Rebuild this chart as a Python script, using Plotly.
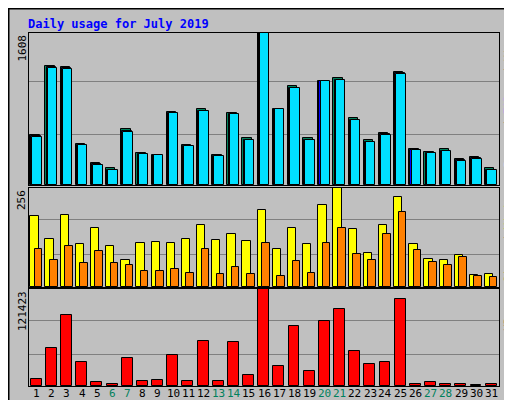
import plotly.graph_objects as go

days = list(range(1, 32))
hits = [525,1258,1247,437,230,175,591,339,317,777,427,809,317,766,492,1608,809,1050,492,1105,1127,711,481,547,1192,383,350,383,273,295,175]
files = [514,1247,1236,427,219,164,569,328,317,766,416,788,306,755,481,1608,809,1028,481,1105,1116,689,459,536,1181,372,339,361,262,284,164]
pages = [510,1243,1232,423,215,160,565,324,313,762,412,784,302,751,477,1604,805,1024,477,1101,1112,685,455,532,1177,368,335,357,258,280,160]
visits = [184,125,186,111,153,106,70,114,117,114,125,161,122,136,120,198,97,153,111,212,256,150,89,161,234,111,72,70,83,31,33]
sites = [97,70,106,61,92,61,58,42,42,47,36,97,33,53,33,114,28,67,36,114,153,86,70,136,195,95,64,58,78,28,25]
kbytes = [8389,48124,89183,29580,4415,3090,34880,5740,7064,38852,5740,56070,5740,54746,13687,121423,25607,74614,18985,81236,95806,44150,26932,29580,109050,3090,4415,3090,3090,1766,3090]
weekends = {6,7,13,14,20,21,27,28}

fig = go.Figure()
def bar(y, color, offset, width, ax):
    fig.add_trace(go.Bar(x=days, y=y, marker=dict(color=color, line=dict(color="black", width=1)),
                         offset=offset, width=width, xaxis="x"+ax, yaxis="y"+ax, showlegend=False))
bar(hits, "#00805c", -0.42, 0.62, "")
bar(files, "#0000ff", -0.34, 0.62, "")
bar(pages, "#00e0ff", -0.27, 0.62, "")
bar(visits, "#ffff00", -0.42, 0.55, "2")
bar(sites, "#ff8000", -0.12, 0.5, "2")
bar(kbytes, "#ff0000", -0.38, 0.72, "3")

xd = [21/512, 491/512]
xcommon = dict(range=[0.5, 31.5], domain=xd, showline=True, mirror=True, linecolor="black", linewidth=1,
               showgrid=False, zeroline=False, ticks="", showticklabels=False, automargin=False)
ycommon = dict(showline=True, mirror=True, linecolor="black", linewidth=1, showticklabels=False,
               gridcolor="#808080", zeroline=False, ticks="", tickmode="array", automargin=False)
fig.update_layout(
    width=512, height=400, margin=dict(l=0, r=0, t=0, b=0, autoexpand=False),
    paper_bgcolor="#c0c0c0", plot_bgcolor="#c0c0c0", barmode="overlay", bargap=0,
    font=dict(family="DejaVu Sans Mono", size=11, color="black"),
    xaxis=dict(xcommon, anchor="y"),
    xaxis2=dict(xcommon, anchor="y2"),
    xaxis3=dict(xcommon, anchor="y3"),
    yaxis=dict(ycommon, domain=[223/400, 375/400], range=[0, 1608], tickvals=[536, 1094]),
    yaxis2=dict(ycommon, domain=[121/400, 220/400], range=[0, 256], tickvals=[83, 175]),
    yaxis3=dict(ycommon, domain=[22/400, 119/400], range=[0, 121423], tickvals=[38852, 82560]),
)
for d in days:
    fig.add_annotation(text=str(d), x=d, y=15/400, xref="x3", yref="paper", yanchor="middle",
                       showarrow=False, font=dict(size=11, color="#00805c" if d in weekends else "black"))
fig.add_annotation(text="<b>Daily usage for July 2019</b>", x=18/512, y=1-7/400, xref="paper", yref="paper",
                   xanchor="left", yanchor="top", showarrow=False, font=dict(color="#0000ff", size=12))
for txt, ytop in [("1608", 375/400), ("256", 220/400), ("121423", 119/400)]:
    fig.add_annotation(text=txt, x=14/512, y=ytop, xref="paper", yref="paper", xanchor="center", yanchor="top",
                       textangle=-90, showarrow=False, font=dict(size=11))
right = [('<span style="color:#00e0ff">Pages</span> / <span style="color:#0000ff">Files</span> / <span style="color:#00805c">Hits</span>', 375/400),
         ('<span style="color:#ff8000">Sites</span> / <span style="color:#ffff00">Visits</span>', 220/400),
         ('<span style="color:#ff0000">KBytes</span>', 119/400)]
for txt, ytop in right:
    fig.add_annotation(text=txt, x=500/512, y=ytop, xref="paper", yref="paper", xanchor="center", yanchor="top",
                       textangle=-90, showarrow=False, font=dict(size=11))
fig.add_shape(type="rect", xref="paper", yref="paper", x0=0, y0=0, x1=1, y1=1, line=dict(color="black", width=3))
fig.write_html("out.html")
